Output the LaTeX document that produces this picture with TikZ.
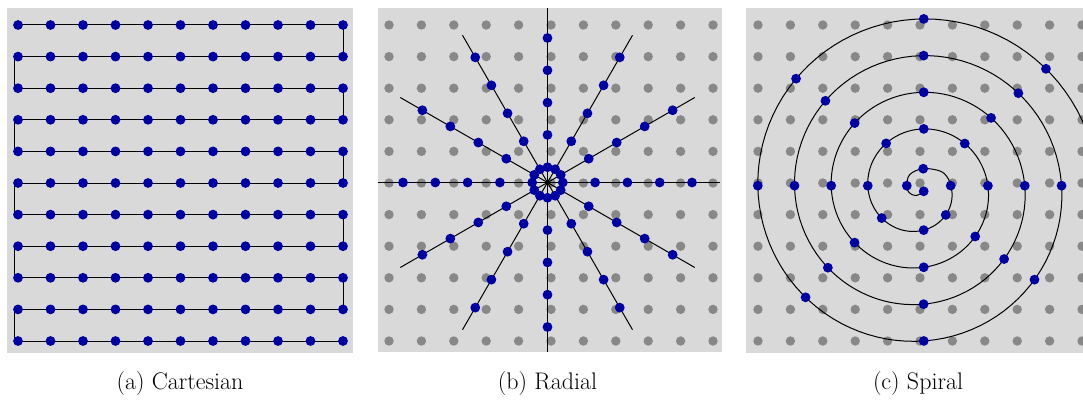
\documentclass[tikz,border=0pt]{standalone}
\begin{document}
\definecolor{bggray}{RGB}{217,217,217}
\definecolor{dotgray}{RGB}{136,136,136}
\definecolor{dotblue}{RGB}{0,0,160}
\begin{tikzpicture}[x=1pt,y=-1pt,
  traj/.style={line width=1pt, black},
  panelbg/.style={fill=bggray, draw=none},
  caption/.style={font=\fontsize{24}{28}\selectfont, anchor=base, inner sep=0pt}]
\useasboundingbox (0,0) rectangle (1083,401);

% ---------- (a) Cartesian ----------
\fill[panelbg] (7,8) rectangle (353,353);
\draw[traj] (18,25) -- (343,25) -- (343,56.6) -- (14,56.6) -- (14,88.2) -- (343,88.2)
  -- (343,119.8) -- (14,119.8) -- (14,151.4) -- (343,151.4) -- (343,183) -- (14,183)
  -- (14,214.6) -- (343,214.6) -- (343,246.2) -- (14,246.2) -- (14,277.8) -- (343,277.8)
  -- (343,309.4) -- (14,309.4) -- (14,341) -- (343,341);
\foreach \i in {0,...,10} \foreach \j in {0,...,10}
  \fill[dotblue] ({18+32.5*\i},{25+31.6*\j}) circle (4.9pt);
\node[caption] (capa) at (180,389) {(a) Cartesian};

% ---------- (b) Radial ----------
\fill[panelbg] (378,8) rectangle (722,352);
\foreach \i in {0,...,10} \foreach \j in {0,...,10}
  \fill[dotgray] ({389+32.4*\i},{25+31.6*\j}) circle (4.7pt);
\draw[traj] (378,182.5) -- (720,182.5);
\draw[traj] (547.5,8) -- (547.5,352);
\foreach \a in {30,60,120,150}
  \draw[traj] ({547.5+170*cos(\a)},{182.5-170*sin(\a)}) -- ({547.5-170*cos(\a)},{182.5+170*sin(\a)});
\foreach \a in {0,30,...,330} \foreach \k in {0,...,4}
  \fill[dotblue] ({547.5+(15.3+32.3*\k)*cos(\a)},{182.5-(15.3+32.3*\k)*sin(\a)}) circle (4.9pt);
\node[caption] (capb) at (547.5,389) {(b) Radial};

% ---------- (c) Spiral ----------
\fill[panelbg] (746,8) rectangle (1093,353);
\foreach \i in {0,...,10} \foreach \j in {0,...,10}
  \fill[dotgray] ({758+32.4*\i},{25+31.6*\j}) circle (4.7pt);
\draw[traj] plot[smooth, tension=0.6] coordinates {(923.7,191.3) (916,195.6) (909,192.5) (906.8,185.7) (909.8,174.5) (923.2,168.7) (940,171) (947.5,177.5) (950.7,185.6)}
  -- plot[domain=-366.6:1075, samples=400, variable=\p] ({919+(69.3+0.102*\p)*cos(\p)}, {189.3+(69.3+0.102*\p)*sin(\p)});
\foreach \q in {(923.7,191.3),(906.8,185.7),(923.2,168.7),(950.7,185.6)}
  \fill[dotblue] \q circle (4.9pt);
\foreach \p in {-316.2,-276.5,-217.6,-176,-125.6,-85.5,-45,-2.93,40,86.55,140.4,182.37,225.8,272.8,315.27,358.05,399.33,447.7,499.3,541.67,583.4,632,675.96,718.55,758.04,808.2,856.4,901.28,941.98,991.6,1036.5}
  \fill[dotblue] ({919+(69.3+0.102*\p)*cos(\p)}, {189.3+(69.3+0.102*\p)*sin(\p)}) circle (4.9pt);
\node[caption] (capc) at (918,389) {(c) Spiral};
\end{tikzpicture}
\end{document}
